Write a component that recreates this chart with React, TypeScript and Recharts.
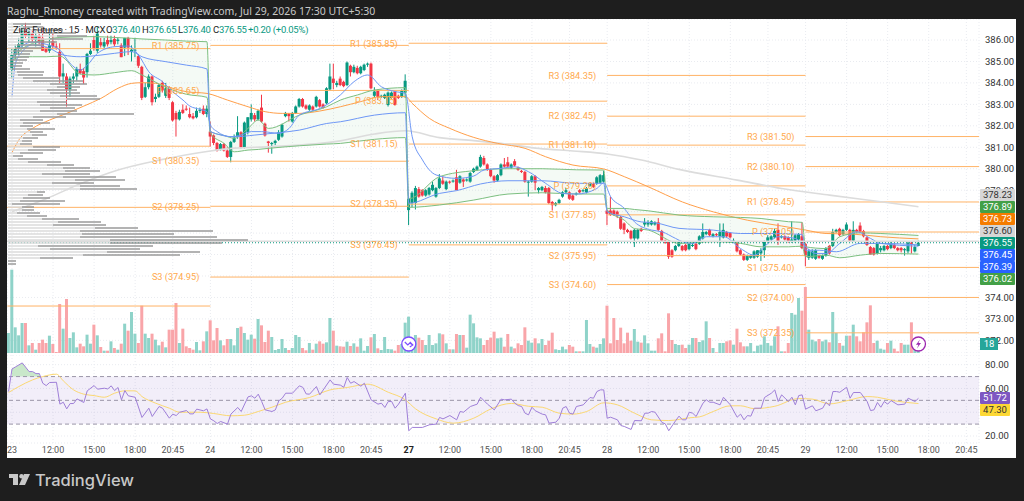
import React from 'react';
import {
  ComposedChart, BarChart, Bar, Line, Area, XAxis, YAxis, CartesianGrid, ReferenceLine, ReferenceDot, ReferenceArea,
} from 'recharts';

// candles per session: [open, high, low, close]
const bars23 = [
  [384.6,385.6,384.2,385.3],[385.3,385.8,385.1,385.6],[385.6,386.1,385.3,385.8],[385.8,386.7,385.6,386.5],[386.5,386.8,386.1,386.2],[386.2,386.6,385.9,386.3],[386.3,386.5,385.9,386.0],[386.0,386.4,385.7,386.2],[386.2,386.3,385.8,385.9],[386.1,386.5,385.5,385.5],
  [385.6,385.7,385.4,385.45],[385.5,386.3,385.4,385.75],[385.95,386.3,385.6,385.7],[385.7,385.85,385.55,385.65],[385.45,385.85,384.0,384.3],[384.3,384.9,384.0,384.45],[384.3,384.45,382.9,383.7],[383.7,384.3,383.35,384.2],[384.2,384.45,384.0,384.3],[384.3,384.75,384.1,384.65],
  [384.65,384.9,384.4,384.45],[384.55,384.7,383.95,384.25],[384.5,385.4,384.25,385.35],[385.35,385.85,385.3,385.5],[386.0,386.2,385.5,385.6],[385.5,386.6,385.4,386.3],[385.9,386.1,385.65,385.75],[385.7,386.1,385.6,385.9],[386.0,386.2,385.7,385.8],[385.9,386.2,385.8,386.0],
  [386.05,386.2,385.7,385.8],[385.95,386.1,385.8,386.02],[385.75,385.85,385.2,385.2],[385.65,386.1,385.25,386.1],[386.1,386.15,385.3,385.65],[385.45,385.75,385.0,385.55],[385.5,386.1,385.2,385.55],[385.25,385.35,384.7,384.8],[384.75,384.8,383.2,383.3],[383.35,384.0,383.3,383.8],
  [383.8,384.4,383.7,384.3],[384.3,384.35,382.95,383.1],[383.25,383.5,383.1,383.35],[383.35,383.95,383.3,383.9],[384.0,384.1,383.55,383.65],[383.4,384.0,383.3,383.75],[383.75,383.85,383.2,383.3],[383.1,383.15,382.2,382.25],[382.6,382.7,381.5,382.3],[382.3,382.75,382.25,382.65],
  [382.75,383.0,382.55,382.6],[382.8,382.95,382.7,382.75],[382.55,382.85,382.35,382.4],[382.45,382.6,382.3,382.35],[382.4,382.85,382.35,382.7],[382.7,382.85,382.6,382.75],[382.8,382.95,382.5,382.55],[382.55,382.95,382.4,382.8],
];
const bars24 = [
  [381.73,382.2,381.03,381.5],[381.55,381.6,381.1,381.2],[381.2,381.25,380.8,380.85],[380.87,381.2,380.85,381.15],[381.15,381.2,380.8,380.85],[380.85,381.0,380.5,380.55],[380.55,381.3,380.3,381.25],[381.25,381.6,381.2,381.45],[381.5,382.45,381.4,381.7],[381.7,381.75,380.95,381.0],
  [380.97,382.2,380.95,382.15],[381.7,382.4,381.6,382.4],[382.3,383.0,382.2,382.6],[382.5,382.6,382.2,382.3],[382.3,382.75,382.25,382.7],[382.85,383.45,382.15,382.2],[382.1,382.15,381.5,381.55],[381.27,381.3,380.75,381.2],[381.15,381.25,380.7,381.2],[381.2,381.35,381.1,381.3],
  [381.35,381.8,381.3,381.7],[381.5,382.1,381.45,382.05],[382.45,382.65,382.4,382.6],[382.55,382.6,382.2,382.45],[382.2,382.65,382.15,382.6],[382.6,382.95,382.55,382.9],[382.9,383.3,382.85,383.25],[383.25,383.3,382.85,382.9],[382.95,383.0,382.75,382.8],[382.75,383.0,382.7,382.95],
  [382.9,382.95,382.7,382.75],[382.9,383.4,382.85,383.35],[383.2,383.25,382.85,382.9],[383.0,383.05,382.8,382.85],[383.05,383.8,383.0,383.75],[383.7,384.9,383.65,384.3],[384.2,384.9,383.7,384.0],[383.9,384.1,383.8,384.0],[384.2,384.3,383.85,383.9],[384.05,384.1,383.8,383.85],
  [383.9,385.0,383.85,384.95],[384.8,384.85,384.3,384.5],[384.5,384.85,384.45,384.75],[384.7,384.8,384.4,384.45],[384.45,384.8,384.4,384.75],[384.6,384.9,384.55,384.85],[384.85,384.95,384.75,384.9],[384.9,384.95,383.7,383.75],[383.4,383.8,383.3,383.6],[383.65,383.7,383.2,383.35],
  [383.35,383.45,383.3,383.4],[383.3,383.5,383.25,383.45],[382.97,383.6,382.9,383.55],[383.3,383.6,383.25,383.55],[383.6,383.65,382.95,382.97],[383.4,383.45,383.25,383.3],[383.35,383.7,383.3,383.65],[383.55,384.4,383.3,384.1],
];
const bars27 = [
  [378.07,378.7,377.37,378.6],[378.4,378.95,378.2,378.88],[378.4,379.2,378.1,379.1],[379.05,379.15,378.65,378.7],[379.0,379.05,378.7,378.75],[378.75,379.05,378.7,379.0],[378.8,379.15,378.75,379.1],[379.0,379.4,378.95,379.25],[378.7,379.15,378.65,379.1],[379.1,379.75,379.05,379.55],
  [379.45,379.65,379.25,379.3],[379.05,379.45,379.0,379.4],[379.4,379.45,379.3,379.35],[379.4,379.5,379.35,379.45],[379.6,379.95,379.0,379.0],[379.35,379.7,379.3,379.65],[379.5,379.55,379.15,379.4],[379.45,379.55,379.4,379.5],[379.4,379.85,379.35,379.8],[379.85,380.05,379.8,380.0],
  [379.95,380.15,379.9,380.1],[380.1,380.65,380.05,380.55],[380.5,380.6,380.15,380.2],[380.2,380.25,379.9,379.95],[379.95,380.0,379.6,379.65],[379.65,379.7,379.35,379.45],[379.45,379.75,379.4,379.7],[379.7,380.25,379.65,380.2],[380.2,380.5,380.05,380.1],[380.3,380.55,380.05,380.1],
  [380.05,380.25,380.0,380.2],[380.35,380.45,380.1,380.15],[380.05,380.1,379.9,379.95],[379.9,379.95,379.8,379.85],[379.85,379.9,379.35,379.4],[379.35,379.45,378.7,379.4],[379.4,379.7,379.35,379.65],[379.65,379.7,379.0,379.35],[379.0,379.15,378.85,379.1],[379.0,379.2,378.95,379.15],
  [379.1,379.2,378.85,378.9],[379.1,379.15,378.35,378.4],[378.45,378.5,378.05,378.3],[378.3,378.45,378.25,378.4],[378.4,378.6,378.35,378.55],[378.7,378.95,378.65,378.9],[378.9,379.1,378.85,379.0],[378.9,378.95,378.55,378.6],[378.75,378.8,378.5,378.55],[378.8,378.9,378.75,378.85],
  [379.0,379.05,378.85,378.9],[378.95,379.05,378.9,379.0],[378.9,379.15,378.85,379.1],[379.2,379.35,379.15,379.3],[379.3,379.35,379.1,379.15],[379.3,379.65,379.25,379.6],[379.35,379.75,379.3,379.7],[379.4,379.9,379.35,379.7],
];
const bars28 = [
  [378.05,378.1,377.37,377.9],[378.05,378.7,377.8,377.85],[378.05,378.1,377.8,377.85],[378.0,378.05,377.7,377.8],[377.75,377.8,377.15,377.2],[377.45,377.5,376.95,377.15],[377.15,377.2,377.0,377.05],[377.1,377.15,376.7,376.75],[376.75,377.2,376.35,377.15],[376.75,377.2,376.7,377.15],
  [377.2,377.25,377.05,377.1],[377.4,377.7,377.3,377.5],[377.4,377.6,377.3,377.5],[377.4,377.6,377.35,377.55],[377.4,377.55,377.35,377.5],[377.5,377.7,377.1,377.15],[377.1,377.15,376.6,376.65],[376.65,376.7,376.5,376.55],[376.6,376.65,375.8,375.9],[376.2,376.25,375.85,375.9],
  [376.2,376.45,376.15,376.4],[376.4,376.65,376.35,376.6],[376.4,376.45,376.15,376.2],[376.45,376.5,376.15,376.2],[376.25,376.55,376.2,376.5],[376.4,376.55,376.35,376.45],[376.5,376.55,376.2,376.25],[376.5,376.9,376.45,376.85],[376.75,377.45,376.7,377.05],[376.95,377.1,376.9,377.05],
  [377.15,377.2,376.85,376.9],[376.85,377.0,376.8,376.95],[376.95,377.0,376.85,376.9],[376.85,377.45,376.35,377.05],[376.8,377.45,376.75,377.15],[377.05,377.1,376.8,376.85],[377.0,377.05,376.75,376.8],[376.6,376.75,376.55,376.65],[376.55,376.6,376.1,376.15],[376.2,376.25,375.95,376.0],
  [376.0,376.05,375.7,375.75],[375.75,376.0,375.7,375.95],[375.85,376.0,375.8,375.95],[375.85,376.2,375.8,376.15],[375.9,376.2,375.85,376.2],[376.05,376.3,375.7,376.2],[376.2,376.65,375.85,376.6],[376.6,376.9,376.55,376.8],[376.7,376.9,376.65,376.85],[376.8,377.2,376.75,377.1],
  [377.15,377.45,376.45,376.6],[376.8,376.9,376.75,376.85],[376.85,376.9,376.65,376.7],[376.8,376.85,376.55,376.6],[376.6,377.55,376.55,376.7],[376.65,376.95,376.55,376.9],[376.7,377.0,376.65,376.95],[376.85,377.5,376.25,376.3],
];
const bars29 = [
  [376.5,376.55,375.45,375.95],[375.85,376.25,375.75,376.15],[375.85,376.25,375.8,376.15],[375.8,376.25,375.75,376.2],[375.95,376.0,375.8,375.85],[375.8,376.0,375.75,375.95],[375.95,376.35,375.9,376.3],[376.4,376.45,376.0,376.05],[376.4,377.2,376.35,377.05],[377.05,377.2,377.0,377.15],
  [377.2,377.25,376.85,376.9],[376.95,377.2,376.9,377.15],[377.15,377.5,377.1,377.4],[377.15,377.2,376.6,376.65],[376.65,377.55,376.6,377.15],[377.15,377.2,377.0,377.05],[377.35,377.5,377.0,377.05],[377.1,377.15,376.8,376.85],[376.8,376.85,376.4,376.45],[376.35,376.4,376.0,376.0],
  [376.3,376.35,375.95,376.0],[376.05,376.55,376.0,376.5],[376.2,376.4,376.1,376.3],[376.2,376.45,376.15,376.4],[376.4,376.45,376.2,376.25],[376.3,376.6,376.25,376.5],[376.45,376.5,376.25,376.3],[376.3,376.35,376.15,376.2],[376.3,376.35,376.1,376.2],[376.2,376.3,375.95,376.25],
  [376.15,376.6,376.05,376.55],[376.55,376.6,376.05,376.5],[376.15,376.45,376.1,376.35],[376.4,376.65,376.4,376.55],
];

const volumes = [
  500,154,106,180,180,46,60,20,60,80,60,104,54,6,294,146,324,90,124,34,56,40,110,56,170,106,36,14,14,70,30,20,56,176,134,246,116,60,284,116,90,116,80,46,68,34,140,140,300,60,146,40,30,20,66,16,70,130,
  196,76,150,76,46,84,84,46,150,158,120,80,110,86,204,166,66,134,96,18,24,84,30,18,30,108,96,30,16,60,20,56,70,56,64,210,134,44,40,38,68,42,58,38,88,14,42,94,114,28,18,96,24,22,14,48,54,182,
  218,68,108,92,78,48,108,48,58,118,112,58,22,22,114,108,108,32,230,178,94,88,48,78,92,128,88,92,38,114,38,28,58,48,154,74,62,88,58,84,48,74,122,22,18,38,22,48,38,10,10,10,198,54,38,32,54,88,
  284,58,210,78,152,58,122,74,144,68,62,106,58,14,14,88,118,10,238,78,54,48,50,30,50,90,90,66,76,190,90,30,4,60,60,70,76,50,146,64,40,40,60,10,44,50,100,60,44,100,160,10,10,60,240,230,330,254,
  396,140,80,70,84,70,80,64,246,120,60,44,104,104,170,100,70,124,184,286,60,74,26,20,60,74,26,10,60,50,50,184,40,18,
];
const leadVolume = 120; // partial bar cut by the left edge

// indicator readings: [bar number, value]
const emaFast = [[0,385.07],[2,385.6],[6,385.9],[10,385.8],[14,385.53],[17,384.91],[20,384.6],[22,384.83],[25,385.38],[30,385.69],[34,385.72],[37,385.3],[40,384.52],[44,384.06],[47,383.59],[50,383.2],[52,382.92],[55,382.77],[57,382.66],[58,382.04],[60,381.73],[64,381.49],[67,381.57],[70,381.73],[73,381.73],[78,381.65],[81,381.88],[84,382.5],[90,382.81],[96,383.44],[100,384.06],[104,384.37],[108,383.82],[112,383.6],[115,383.51],[117,381.49],[120,380.41],[124,379.71],[130,379.55],[135,379.66],[138,379.94],[143,380.02],[147,380.09],[151,379.86],[156,379.32],[161,378.85],[165,378.82],[171,379.08],[173,379.35],[175,378.7],[179,378.15],[182,377.52],[187,377.14],[190,377.06],[194,376.75],[196,376.6],[199,376.52],[203,376.83],[208,376.83],[213,376.28],[217,375.97],[221,376.52],[224,376.83],[229,376.75],[231,376.52],[235,376.05],[238,376.05],[242,376.52],[247,377.06],[251,376.75],[254,376.52],[265,376.39]];
const vwap = [[0,383.36],[1,384.91],[3,385.46],[6,385.77],[11,385.61],[15,385.3],[20,385.22],[26,385.3],[30,385.38],[35,385.46],[38,385.22],[45,384.99],[51,384.83],[57,384.65],[58,381.73],[65,381.49],[71,381.57],[78,381.68],[84,381.8],[92,382.11],[96,382.19],[106,382.5],[115,382.61],[116,378.39],[125,378.85],[130,378.98],[137,379.29],[145,379.44],[155,379.44],[165,379.32],[173,379.32],[174,377.99],[179,377.76],[184,377.52],[188,377.48],[195,377.22],[205,377.14],[213,376.98],[221,376.98],[231,376.94],[232,376.2],[236,376.2],[241,376.13],[248,376.52],[254,376.52],[265,376.45]];
const emaSlow = [[0,380.75],[2,381.34],[6,381.88],[11,382.27],[16,382.58],[21,382.92],[26,383.28],[31,383.75],[35,383.98],[38,384.01],[42,383.98],[47,383.75],[51,383.59],[57,383.51],[63,383.2],[69,382.89],[74,382.66],[79,382.58],[84,382.58],[90,382.69],[96,382.89],[102,383.13],[108,383.36],[115,383.36],[117,383.05],[122,382.35],[128,381.88],[135,381.46],[142,381.18],[150,380.95],[156,380.56],[164,380.17],[173,379.99],[179,379.63],[186,379.16],[196,378.45],[205,377.99],[215,377.6],[225,377.33],[232,377.14],[238,376.98],[246,376.95],[254,376.83],[265,376.73]];
const maLong = [[0,378.0],[10,378.6],[20,379.3],[31,379.94],[43,380.4],[58,380.83],[65,380.96],[76,381.03],[96,381.3],[106,381.62],[115,381.77],[125,381.45],[135,381.31],[145,381.14],[154,380.95],[164,380.83],[174,380.69],[184,380.41],[195,379.97],[212,379.47],[225,379.08],[239,378.77],[254,378.46],[265,378.23]];

// green band around the session vwap: [bar number, lower, upper]
const vwapBand = [[0,385.07,385.22],[3,385.22,385.6],[6,385.22,385.84],[10,385.22,386.03],[14,385.25,386.12],[20,384.41,386.15],[24,384.37,386.16],[30,384.48,386.12],[35,384.57,386.08],[38,384.37,386.05],[45,383.79,386.0],[51,383.47,385.95],[57,383.33,385.92],[58,381.65,381.73],[62,381.18,381.55],[65,380.79,381.42],[69,380.87,381.88],[72,380.9,382.27],[75,380.95,381.88],[84,381.07,382.5],[92,381.15,382.89],[96,381.18,383.2],[101,381.28,383.44],[106,381.37,383.67],[115,381.45,383.78],[116,378.2,378.6],[125,378.31,379.63],[135,378.54,379.91],[145,378.82,380.0],[155,378.88,380.0],[165,378.82,379.95],[173,378.82,379.94],[174,378.07,378.15],[179,377.6,378.15],[182,377.21,378.1],[186,377.14,378.04],[195,376.52,377.84],[205,376.6,377.76],[213,376.52,377.73],[219,376.36,377.68],[227,376.36,377.53],[231,376.39,377.5],[232,375.9,376.36],[238,375.97,376.28],[242,375.85,376.83],[248,375.97,377.01],[254,376.05,376.98],[265,376.02,376.89]];

const rsiPoints = [[-1,57.4],[0,76.4],[1,78.1],[3,81.5],[5,74.2],[6,74.2],[7,72.5],[8,72.5],[9,64.4],[10,62.4],[11,65],[13,65.2],[14,46.8],[15,48.4],[16,42.8],[17,47.3],[18,47.3],[19,51.2],[21,48.2],[22,58],[24,62.4],[25,59.4],[27,60.2],[28,59.6],[29,62.2],[30,58.2],[31,60.8],[32,50.4],[33,58.2],[34,53.8],[36,52.6],[38,35.6],[40,43.4],[41,36.4],[43,44.8],[44,43.4],[46,35],[47,38.4],[48,37.2],[49,40],[51,41.4],[52,38.6],[53,38.6],[54,42.6],[56,41.2],[57,42.8],[58,34.4],[59,32.8],[60,30.5],[61,32.2],[63,30],[64,38.4],[66,44],[67,40.6],[69,52.9],[70,53.8],[71,51.8],[72,55.2],[73,49],[74,42],[76,40.6],[77,42],[78,49.6],[79,51.8],[80,56],[82,56],[84,62.2],[85,61],[86,55.4],[87,55.2],[89,61.6],[90,54.6],[93,67.2],[94,63.6],[96,62.8],[97,61],[98,69.2],[99,64.4],[100,65.8],[102,61.9],[103,64.4],[105,50.4],[107,46.8],[108,47.6],[109,44],[110,49],[111,49],[112,43.4],[113,46.8],[115,56],[116,24.4],[117,27.2],[120,27.2],[122,29.4],[124,30],[125,35.6],[126,34.4],[128,37.2],[130,33.6],[131,40.6],[132,40],[134,44.8],[136,46.8],[137,52.6],[139,46.8],[141,42],[143,51],[144,50.4],[146,51],[147,47.6],[148,45.6],[149,44.8],[150,39.2],[151,37.8],[152,44.2],[153,41.2],[155,38.4],[156,37.8],[157,30.8],[159,31.6],[160,35],[161,43.4],[162,44.8],[163,39.2],[164,38.4],[165,44.8],[167,46.2],[169,52.4],[170,51.8],[171,57.4],[172,58.8],[173,58.8],[174,35],[175,35.8],[177,33.6],[178,28.8],[179,28],[181,25.5],[182,33],[184,32.8],[185,39.2],[186,39.2],[187,40.6],[188,40],[190,31.4],[191,30.2],[192,24.4],[194,32.8],[195,36.7],[196,33.6],[197,33.6],[198,40],[199,39.2],[200,36.4],[202,47.6],[203,50.4],[204,48.4],[205,48.4],[207,46.2],[208,52.6],[210,46.2],[212,35.8],[213,38.4],[214,33.6],[215,37.2],[216,36.7],[217,43.4],[219,43.4],[220,52.4],[222,56],[223,58.8],[224,49],[225,54.6],[226,51.8],[227,49],[228,52.6],[229,46.2],[230,54],[231,54.6],[232,42.6],[234,45.4],[235,41.2],[237,43.4],[238,48.4],[239,45.4],[240,57.4],[241,57.4],[242,56.8],[244,61],[245,51.8],[246,56.6],[248,56.6],[250,49],[251,41.4],[252,42],[253,48.2],[254,44.2],[255,49],[256,46.8],[257,49.8],[259,46.2],[261,46.8],[262,51.8],[264,49],[265,51.72]];
const rsiAvgPoints = [[-1,56.6],[2,61.6],[6,67.2],[9,70],[13,72],[15,66.4],[18,58.8],[21,55.2],[24,54],[27,52.6],[30,56],[33,58],[36,58],[38,53.2],[42,47.6],[46,43.4],[49,40],[55,40],[59,38.9],[64,37],[68,37.5],[72,40.6],[76,44.2],[80,48.4],[87,52.4],[93,58.8],[98,60.8],[104,63.6],[110,56.8],[115,50.4],[118,42.8],[124,34.4],[129,30.8],[135,35],[140,42.8],[146,47.4],[151,45],[155,44.2],[160,39.2],[164,38.4],[168,40.6],[173,47.9],[177,46.2],[182,39.2],[187,33.6],[192,33],[198,35.3],[201,36.1],[205,40.6],[210,45.4],[213,45.4],[217,43],[223,45],[230,51.5],[234,51],[239,47],[244,49.6],[250,53.2],[253,52.6],[258,49.6],[265,47.3]];

// pivots per session: first bar, last bar, [name, level]
const pivotSessions: { from: number; to: number; levels: [string, number][]; labelled: boolean }[] = [
  { from: -1.4, to: 58, labelled: false, levels: [['R1', 385.6], ['S1', 381.05], ['S2', 378.2], ['S3', 373.6]] },
  { from: 58, to: 116, labelled: true, levels: [['R1', 385.75], ['P', 383.65], ['S1', 380.35], ['S2', 378.25], ['S3', 374.95]] },
  { from: 116, to: 174, labelled: true, levels: [['R1', 385.85], ['P', 383.15], ['S1', 381.15], ['S2', 378.35], ['S3', 376.45]] },
  { from: 174, to: 232, labelled: true, levels: [['R3', 384.35], ['R2', 382.45], ['R1', 381.1], ['P', 379.2], ['S1', 377.85], ['S2', 375.95], ['S3', 374.6]] },
  { from: 232, to: 282.7, labelled: true, levels: [['R3', 381.5], ['R2', 380.1], ['R1', 378.45], ['P', 377.05], ['S1', 375.4], ['S2', 374.0], ['S3', 372.35]] },
];

// volume profile rows, top to bottom: pale part then dark part
const profilePale = [5,15,25,35,49,42,12,9,7,5,5,4,2,2,2,4,9,10,15,25,42,49,39,42,52,59,29,32,42,32,49,25,12,15,12,19,22,24,15,14,12,25,20,12,5,10,20,39,55,57,34,55,67,44,72,72,29,20,15,12,4,14,14,9,19,34,50,45,87,72,74,72,102,102,30,42,99,75,32,0,0];
const profileDark = [28,20,30,33,30,33,37,27,27,20,17,17,17,13,12,18,27,25,37,50,37,23,30,30,37,33,30,42,25,37,77,33,23,27,13,28,13,15,15,10,12,27,28,23,10,20,33,27,27,35,48,53,50,42,40,57,8,15,27,45,48,12,12,23,20,37,43,53,43,133,92,137,138,112,115,90,93,97,33,8,8];

const priceTicks = [386,385,384,383,382,381,380,379,378,377,376,375,374,373,372];
const rsiTicks = [80,60,40,20];
const timeTicks = [0,12,24,36,47,58,70,82,94,105,116,128,140,152,163,174,186,198,210,221,232,244,256,268,279];
const timeLabels = ['23','12:00','15:00','18:00','20:45','24','12:00','15:00','18:00','20:45','27','12:00','15:00','18:00','20:45','28','12:00','15:00','18:00','20:45','29','12:00','15:00','18:00','20:45'];

const priceTags = [
  { text: '378.23', bg: '#d6d6d6', fg: '#333' },
  { text: '376.89', bg: '#43a047', fg: '#fff' },
  { text: '376.73', bg: '#f57c00', fg: '#fff' },
  { text: '376.60', bg: '#d6d6d6', fg: '#333' },
  { text: '376.55', bg: '#089981', fg: '#fff' },
  { text: '376.45', bg: '#2962ff', fg: '#fff' },
  { text: '376.39', bg: '#2962ff', fg: '#fff' },
  { text: '376.02', bg: '#43a047', fg: '#fff' },
];
const rsiTags = [
  { text: '51.72', bg: '#7e57c2', fg: '#fff' },
  { text: '47.30', bg: '#fdd835', fg: '#333' },
];

const allBars = [...bars23, ...bars24, ...bars27, ...bars28, ...bars29];
const UP = '#089981';
const DOWN = '#f23645';
const DOMAIN_X: [number, number] = [-1.46, 282.7];
const FONT = 'Roboto, sans-serif';

const rows: any[] = [];
for (let i = -1; i <= 265; i++) rows.push({ i });
const rowAt = (i: number) => rows[i + 1];
rowAt(-1).vol = leadVolume;
rowAt(-1).up = true;
allBars.forEach((b, i) => {
  const r = rowAt(i);
  r.o = b[0]; r.h = b[1]; r.l = b[2]; r.c = b[3];
  r.range = [b[2], b[1]];
  r.vol = volumes[i];
  r.up = b[3] >= b[0];
});
emaFast.forEach(([i, v]) => { rowAt(i).emaFast = v; });
vwap.forEach(([i, v]) => { rowAt(i).vwap = v; });
emaSlow.forEach(([i, v]) => { rowAt(i).emaSlow = v; });
maLong.forEach(([i, v]) => { rowAt(i).maLong = v; });
vwapBand.forEach(([i, lo, hi]) => { const r = rowAt(i); r.lower = lo; r.upper = hi; r.band = [lo, hi]; });
rsiPoints.forEach(([i, v]) => { const r = rowAt(i); r.rsi = v; if (v > 70) r.over = [70, v]; });
rsiAvgPoints.forEach(([i, v]) => { rowAt(i).rsiAvg = v; });

const profileRows = profilePale.map((p, i) => ({ row: i, pale: p, dark: profileDark[i] }));

const Candle = (props: any) => {
  const { x, y, width, height, payload } = props;
  if (payload.o == null) return null;
  const top = Math.min(y, y + height);
  const h = Math.abs(height);
  const k = h / (payload.h - payload.l || 1);
  const color = payload.up ? UP : DOWN;
  const bodyTop = top + (payload.h - Math.max(payload.o, payload.c)) * k;
  const bodyH = Math.max(1, Math.abs(payload.o - payload.c) * k);
  return (
    <g>
      <rect x={x + width / 2 - 0.5} y={top} width={1} height={h} fill={color} />
      <rect x={x} y={bodyTop} width={width} height={bodyH} fill={color} />
    </g>
  );
};

const VolBar = (props: any) => {
  const { x, y, width, height, payload } = props;
  return <rect x={x} y={y} width={width} height={height} fill={payload.up ? '#8fd3c9' : '#f9a5a9'} />;
};

const TimeTick = (props: any) => {
  const { x, y, payload } = props;
  const label = timeLabels[timeTicks.indexOf(payload.value)];
  return (
    <text x={x} y={y + 2} textAnchor="middle" fontFamily={FONT} fontSize={9} fontWeight={label === '27' ? 700 : 400} fill={label === '27' ? '#222' : '#555'}>
      {label}
    </text>
  );
};

const ArrowIcon = (props: any) => (
  <g>
    <circle cx={props.cx} cy={props.cy} r={7} fill="#fff" stroke="#7c4dff" strokeWidth={1.3} />
    <path d={`M${props.cx - 4} ${props.cy - 2} L${props.cx - 1} ${props.cy + 1} L${props.cx + 1} ${props.cy - 1} L${props.cx + 4} ${props.cy + 1} M${props.cx + 1} ${props.cy + 3} L${props.cx + 4} ${props.cy + 1} L${props.cx + 1} ${props.cy - 2}`} fill="none" stroke="#7c4dff" strokeWidth={1.2} />
  </g>
);

const BoltIcon = (props: any) => (
  <g>
    <circle cx={props.cx} cy={props.cy} r={7} fill="#fff" stroke="#9c27b0" strokeWidth={1.3} />
    <path d={`M${props.cx + 1.5} ${props.cy - 4.5} L${props.cx - 2.5} ${props.cy + 0.8} L${props.cx} ${props.cy + 0.8} L${props.cx - 1.5} ${props.cy + 4.5} L${props.cx + 2.5} ${props.cy - 1} L${props.cx} ${props.cy - 1} Z`} fill="#9c27b0" />
  </g>
);

const Tag = ({ t }: any) => (
  <div style={{ background: t.bg, color: t.fg, height: 12, lineHeight: '12px', textAlign: 'center', fontSize: 9.5, fontFamily: FONT, borderRadius: 1 }}>{t.text}</div>
);

const PriceAxes = { xAxisId: 'p', yAxisId: 'price' };

const legendParts = [
  { left: 13, color: '#222', label: 'Zinc Futures · 15 · MCX', value: '' },
  { left: 106, color: UP, label: 'O', value: '376.40' },
  { left: 142, color: UP, label: 'H', value: '376.65' },
  { left: 178, color: UP, label: 'L', value: '376.40' },
  { left: 213, color: UP, label: 'C', value: '376.55' },
  { left: 248, color: UP, label: '', value: '+0.20 (+0.05%)' },
];

const App: React.FC = () => {
  return (
    <div style={{ position: 'absolute', left: 0, top: 0, width: 1024, height: 501, background: '#1e1e1e', overflow: 'hidden', fontFamily: FONT }}>
      <div style={{ position: 'absolute', left: 7, top: 4, color: '#c8c8c8', fontSize: 10.5, fontFamily: '"Noto Sans", sans-serif', whiteSpace: 'nowrap' }}>
        Raghu_Rmoney created with TradingView.com, Jul 29, 2026 17:30 UTC+5:30
      </div>
      <div style={{ position: 'absolute', left: 7, top: 19, width: 1009, height: 439, background: '#fff' }} />

      <div style={{ position: 'absolute', left: 7, top: 19 }}>
        <ComposedChart width={1009} height={334} data={rows} margin={{ top: 0, right: 0, bottom: 0, left: 0 }} barGap={0}>
          <XAxis xAxisId="p" dataKey="i" type="number" domain={DOMAIN_X} allowDataOverflow ticks={timeTicks} hide />
          <XAxis xAxisId="v" dataKey="i" type="number" domain={DOMAIN_X} allowDataOverflow ticks={timeTicks} hide />
          <YAxis yAxisId="price" orientation="right" width={37} domain={[371.41, 386.98]} allowDataOverflow ticks={priceTicks} tickFormatter={(v: number) => v.toFixed(2)} tick={{ fontSize: 9.5, fill: '#333', fontFamily: FONT }} tickLine={false} axisLine={false} tickSize={0} tickMargin={6} interval={0} />
          <YAxis yAxisId="vol" hide domain={[0, 2004]} />
          <CartesianGrid {...PriceAxes} stroke="#e9ebf0" strokeDasharray="1 2" />

          {pivotSessions.flatMap((s) =>
            s.levels.map(([name, level]) => (
              <ReferenceLine key={`${s.from}-${name}`} {...PriceAxes} stroke="#ffb366" strokeWidth={1} ifOverflow="visible"
                segment={[{ x: s.from, y: level }, { x: s.to, y: level }]} />
            ))
          )}

          <Bar xAxisId="v" yAxisId="vol" dataKey="vol" barSize={3} shape={<VolBar />} isAnimationActive={false} />

          <Area {...PriceAxes} dataKey="band" stroke="none" fill="#4caf50" fillOpacity={0.06} connectNulls type="monotone" isAnimationActive={false} />
          <Line {...PriceAxes} dataKey="maLong" stroke="#dcdcdc" strokeWidth={1.6} dot={false} connectNulls type="monotone" isAnimationActive={false} />
          <Line {...PriceAxes} dataKey="emaSlow" stroke="#ff9f4a" strokeWidth={1} dot={false} connectNulls type="monotone" isAnimationActive={false} />
          <Line {...PriceAxes} dataKey="upper" stroke="#7cbf80" strokeWidth={1} dot={false} connectNulls type="monotone" isAnimationActive={false} />
          <Line {...PriceAxes} dataKey="lower" stroke="#7cbf80" strokeWidth={1} dot={false} connectNulls type="monotone" isAnimationActive={false} />
          <Line {...PriceAxes} dataKey="vwap" stroke="#6e97f5" strokeWidth={1} dot={false} connectNulls type="monotone" isAnimationActive={false} />
          <Line {...PriceAxes} dataKey="emaFast" stroke="#6e97f5" strokeWidth={1} dot={false} connectNulls type="monotone" isAnimationActive={false} />

          <ReferenceLine {...PriceAxes} y={376.62} stroke="#dcdcdc" strokeWidth={1.5} />
          <ReferenceLine {...PriceAxes} y={376.55} stroke={UP} strokeWidth={1} strokeDasharray="1 2" />

          <Bar {...PriceAxes} dataKey="range" barSize={3} shape={<Candle />} isAnimationActive={false} />

          {pivotSessions.filter((s) => s.labelled).flatMap((s) =>
            s.levels.map(([name, level]) => (
              <ReferenceDot key={`${s.from}-${name}-label`} {...PriceAxes} x={s.from} y={level} r={0} fill="none" stroke="none" ifOverflow="visible"
                label={{ value: `${name} (${level.toFixed(2)})`, position: 'left', offset: 11, fill: '#ffa94d', fontSize: 9.2, fontFamily: FONT }} />
            ))
          )}
          <ReferenceDot {...PriceAxes} x={116} y={371.83} r={7} shape={<ArrowIcon />} ifOverflow="visible" />
          <ReferenceDot {...PriceAxes} x={265} y={371.83} r={7} shape={<BoltIcon />} ifOverflow="visible" />
        </ComposedChart>
      </div>

      <div style={{ position: 'absolute', left: 8, top: 21.5, opacity: 0.75, pointerEvents: 'none' }}>
        <BarChart width={300} height={243} data={profileRows} layout="vertical" margin={{ top: 0, right: 0, bottom: 0, left: 0 }} barCategoryGap={0}>
          <XAxis type="number" domain={[0, 300]} hide />
          <YAxis type="category" dataKey="row" hide />
          <Bar dataKey="pale" stackId="p" barSize={2} fill="#dcdcdc" isAnimationActive={false} />
          <Bar dataKey="dark" stackId="p" barSize={2} fill="#9a9a9a" isAnimationActive={false} />
        </BarChart>
      </div>

      {legendParts.map((p) => (
        <div key={p.left} style={{ position: 'absolute', left: p.left, top: 24, fontSize: 9.5, letterSpacing: -0.25, color: p.color, whiteSpace: 'nowrap', fontFamily: FONT }}>
          <span style={{ color: '#222' }}>{p.label}</span>{p.value}
        </div>
      ))}

      <div style={{ position: 'absolute', left: 7, top: 355 }}>
        <ComposedChart width={1009} height={103} data={rows} margin={{ top: 0, right: 0, bottom: 0, left: 0 }}>
          <XAxis dataKey="i" type="number" domain={DOMAIN_X} allowDataOverflow ticks={timeTicks} interval={0} tick={<TimeTick />} tickLine={false} axisLine={false} height={15} />
          <YAxis orientation="right" width={37} domain={[14.1, 88.15]} allowDataOverflow ticks={rsiTicks} tickFormatter={(v: number) => v.toFixed(2)} tick={{ fontSize: 9.5, fill: '#333', fontFamily: FONT }} tickLine={false} axisLine={false} tickSize={0} tickMargin={6} interval={0} />
          <CartesianGrid stroke="#e9ebf0" strokeDasharray="1 2" />
          <ReferenceArea y1={30} y2={70} fill="#7e57c2" fillOpacity={0.1} stroke="none" />
          <ReferenceLine y={70} stroke="#9b96a8" strokeDasharray="4 3" />
          <ReferenceLine y={50} stroke="#9b96a8" strokeDasharray="4 3" />
          <ReferenceLine y={30} stroke="#9b96a8" strokeDasharray="4 3" />
          <Area dataKey="over" stroke="none" fill="#4caf50" fillOpacity={0.3} connectNulls isAnimationActive={false} />
          <Line dataKey="rsiAvg" stroke="#fbd872" strokeWidth={1} dot={false} connectNulls type="monotone" isAnimationActive={false} />
          <Line dataKey="rsi" stroke="#9f7fd8" strokeWidth={1} dot={false} connectNulls isAnimationActive={false} />
        </ComposedChart>
      </div>

      <div style={{ position: 'absolute', left: 980, top: 189, width: 35 }}>
        {priceTags.map((t) => <Tag key={t.text} t={t} />)}
      </div>
      <div style={{ position: 'absolute', left: 980, top: 338, width: 18, background: '#26a69a', color: '#fff', height: 12, lineHeight: '12px', fontSize: 9.5, textAlign: 'center' }}>18</div>
      <div style={{ position: 'absolute', left: 980, top: 392, width: 30 }}>
        {rsiTags.map((t) => <Tag key={t.text} t={t} />)}
      </div>

      <svg style={{ position: 'absolute', left: 8, top: 473 }} width={24} height={14}>
        <path d="M1 1 H10 V12 H5 V5 H1 Z" fill="#c8c8c8" />
        <circle cx={13.5} cy={3.2} r={2.2} fill="#c8c8c8" />
        <path d="M16 1 H22 L17 12 H11 Z" fill="#c8c8c8" />
      </svg>
      <div style={{ position: 'absolute', left: 35, top: 470, color: '#c8c8c8', fontSize: 16.5, fontFamily: 'Inter, sans-serif', fontWeight: 500, whiteSpace: 'nowrap' }}>TradingView</div>
    </div>
  );
};

export default App;
